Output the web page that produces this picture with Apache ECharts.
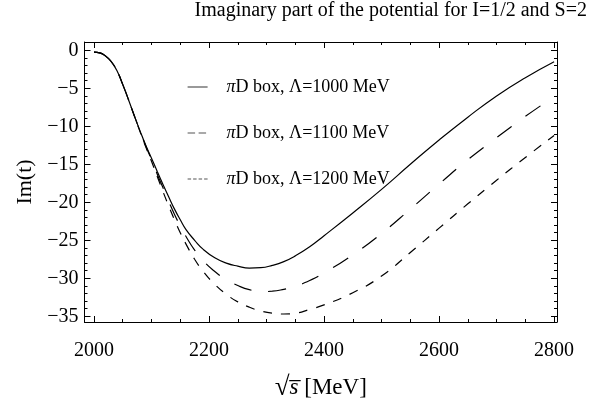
<!DOCTYPE html>
<html>
<head>
<meta charset="utf-8">
<script src="https://cdn.jsdelivr.net/npm/echarts@6/dist/echarts.min.js"></script>
<style>
  html, body { margin: 0; padding: 0; background: #fff; }
  #chart { width: 592px; height: 406px; }
</style>
</head>
<body>
<div id="chart"></div>
<script>
// sqrt(s) in MeV
const energy = [2000, 2010, 2020, 2030, 2040, 2050, 2060, 2070, 2080, 2090, 2100, 2110, 2120, 2130, 2140, 2150, 2160, 2175, 2190, 2210, 2230, 2250, 2270, 2290, 2310, 2330, 2350, 2375, 2400, 2450, 2500, 2550, 2600, 2650, 2700, 2750, 2800];

// Im(t) for the three cutoffs
const im1000 = [-0.25, -0.35, -0.75, -1.5, -2.7, -4.5, -6.5, -8.6, -10.6, -12.5, -14.2, -15.95, -17.65, -19.3, -20.9, -22.3, -23.6, -25.0, -26.2, -27.3, -28.0, -28.4, -28.65, -28.6, -28.3, -27.8, -27.05, -25.85, -24.4, -21.4, -18.3, -15.0, -11.8, -8.8, -6.0, -3.6, -1.5];
const im1100 = [-0.25, -0.35, -0.75, -1.5, -2.7, -4.5, -6.5, -8.6, -10.6, -12.6, -14.4, -16.3, -18.1, -19.9, -21.6, -23.1, -24.5, -26.3, -27.7, -29.1, -30.2, -30.95, -31.5, -31.75, -31.7, -31.45, -31.05, -30.3, -29.3, -26.9, -24.1, -20.9, -17.6, -14.4, -11.5, -8.7, -6.1];
const im1200 = [-0.25, -0.35, -0.75, -1.5, -2.7, -4.5, -6.5, -8.6, -10.7, -12.7, -14.6, -16.6, -18.6, -20.5, -22.3, -24.0, -25.5, -27.5, -29.1, -30.8, -32.1, -33.1, -33.8, -34.3, -34.6, -34.7, -34.6, -34.1, -33.5, -31.9, -29.7, -26.6, -23.4, -20.2, -17.1, -14.1, -11.2];

const names = ['πD box, Λ=1000 MeV', 'πD box, Λ=1100 MeV', 'πD box, Λ=1200 MeV'];

const FONT = 'Liberation Serif';
const pair = (ys) => energy.map((e, i) => [e, ys[i]]);
const minus = v => (v < 0 ? '\u2212' + Math.abs(v) : String(v));

const frameAxis = (extra) => Object.assign({
  type: 'value',
  axisLine: { show: true, onZero: false, lineStyle: { color: '#000', width: 1 } },
  axisTick: { show: true, inside: true, length: 6, lineStyle: { color: '#000' } },
  minorTick: { show: true, length: 3, lineStyle: { color: '#000' } },
  splitLine: { show: false },
  axisLabel: { show: false }
}, extra);

const xCommon = { min: 1983.5, max: 2805, splitNumber: 4, minInterval: 200, maxInterval: 200 };
const yCommon = { min: -35.75, max: 1.09, splitNumber: 7, minInterval: 5, maxInterval: 5 };

// legend shows just the line sample, no marker
const hideMark = { color: 'rgba(0,0,0,0)', borderColor: 'rgba(0,0,0,0)', borderWidth: 0 };

const chart = echarts.init(document.getElementById('chart'), null, { renderer: 'canvas' });
chart.setOption({
  animation: false,
  backgroundColor: '#fff',
  title: {
    text: 'Imaginary part of the potential for I=1/2 and S=2',
    right: 5, top: 1, padding: 0,
    textStyle: { fontFamily: FONT, fontSize: 20, fontWeight: 'normal', color: '#000' }
  },
  grid: { left: 84.5, right: 35, top: 42, bottom: 69 },
  legend: {
    orient: 'vertical',
    left: 182, top: 73,
    itemWidth: 20, itemHeight: 18, itemGap: 28,
    formatter: n => '{i|π}' + n.slice(1),
    textStyle: {
      fontFamily: FONT, fontSize: 18, color: '#000', padding: [0, 0, 0, 14],
      rich: { i: { fontFamily: FONT, fontSize: 18, fontStyle: 'italic', color: '#000' } }
    },
    data: [
      { name: names[0], itemStyle: hideMark, lineStyle: { color: '#555', width: 1.2, type: 'solid' } },
      { name: names[1], itemStyle: hideMark, lineStyle: { color: '#555', width: 1.2, type: [7.5, 3.5] } },
      { name: names[2], itemStyle: hideMark, lineStyle: { color: '#555', width: 1.2, type: [3.5, 2] } }
    ]
  },
  xAxis: [
    frameAxis(Object.assign({
      position: 'bottom',
      name: '{r|√}{i|s̅} [MeV]',
      nameLocation: 'middle', nameGap: 52,
      nameTextStyle: {
        fontFamily: FONT, fontSize: 23, color: '#000',
        rich: {
          r: { fontFamily: FONT, fontSize: 27, color: '#000' },
          i: { fontFamily: FONT, fontSize: 23, fontStyle: 'italic', color: '#000' }
        }
      },
      minorTick: { show: true, splitNumber: 4, length: 3, lineStyle: { color: '#000' } },
      axisLabel: {
        show: true, margin: 19, color: '#000', fontFamily: FONT, fontSize: 20,
        formatter: v => (Math.abs(v % 200) < 1e-6 ? String(v) : '')
      }
    }, xCommon)),
    frameAxis(Object.assign({
      position: 'top',
      minorTick: { show: true, splitNumber: 4, length: 3, lineStyle: { color: '#000' } }
    }, xCommon))
  ],
  yAxis: [
    frameAxis(Object.assign({
      position: 'left',
      name: 'Im(t)',
      nameLocation: 'middle', nameGap: 48,
      nameTextStyle: { fontFamily: FONT, fontSize: 22, color: '#000' },
      minorTick: { show: true, splitNumber: 5, length: 3, lineStyle: { color: '#000' } },
      axisLabel: {
        show: true, margin: 6, color: '#000', fontFamily: FONT, fontSize: 20,
        formatter: v => (Math.abs(v % 5) < 1e-6 ? minus(v) : '')
      }
    }, yCommon)),
    frameAxis(Object.assign({
      position: 'right',
      minorTick: { show: true, splitNumber: 5, length: 3, lineStyle: { color: '#000' } }
    }, yCommon))
  ],
  series: [
    { name: names[0], type: 'line', data: pair(im1000), symbol: 'none', smooth: true,
      itemStyle: { color: '#000' },
      lineStyle: { color: '#000', width: 1.2, type: 'solid' } },
    { name: names[1], type: 'line', data: pair(im1100), symbol: 'none', smooth: true,
      itemStyle: { color: '#000' },
      lineStyle: { color: '#000', width: 1.2, type: [18, 17] } },
    { name: names[2], type: 'line', data: pair(im1200), symbol: 'none', smooth: true,
      itemStyle: { color: '#000' },
      lineStyle: { color: '#000', width: 1.2, type: [9, 9] } }
  ]
});
</script>
</body>
</html>
